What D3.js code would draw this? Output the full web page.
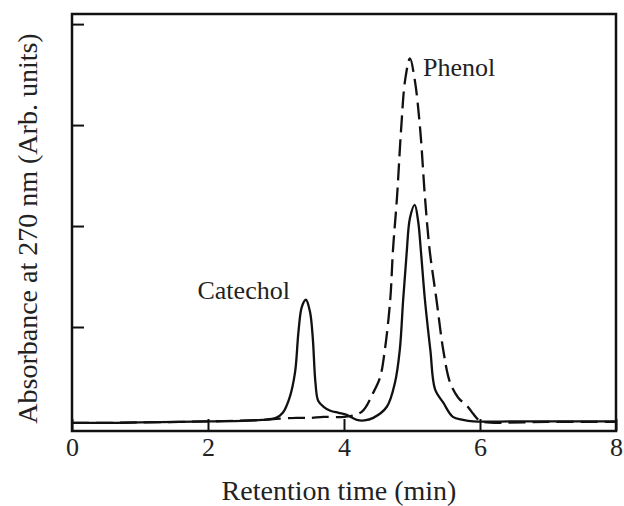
<!DOCTYPE html>
<html>
<head>
<meta charset="utf-8">
<script src="https://cdn.jsdelivr.net/npm/d3@7"></script>
<style>
  body { margin: 0; background: #fff; }
  svg { display: block; font-family: "Liberation Serif", "Times New Roman", serif; }
</style>
</head>
<body>
<svg width="624" height="506"></svg>
<script>
// retention time (min) / absorbance (arb. units)
const solidTime = [0, 0.5, 1.0, 2.0, 2.8, 3.0, 3.1, 3.2, 3.28, 3.33, 3.38, 3.44, 3.5, 3.54, 3.58, 3.62, 3.7, 3.8, 3.92, 4.04, 4.19, 4.3, 4.43, 4.63, 4.75, 4.82, 4.87, 4.92, 4.97, 5.04, 5.09, 5.13, 5.19, 5.27, 5.34, 5.46, 5.6, 5.75, 5.9, 6.5, 7.0, 8.0];
const solidAbs  = [0.05, 0.05, 0.055, 0.065, 0.08, 0.1, 0.15, 0.3, 0.55, 0.95, 1.2, 1.27, 1.15, 0.9, 0.45, 0.27, 0.21, 0.17, 0.15, 0.13, 0.08, 0.075, 0.1, 0.21, 0.45, 0.77, 1.27, 1.72, 2.08, 2.21, 2.05, 1.76, 1.27, 0.77, 0.38, 0.25, 0.11, 0.08, 0.065, 0.065, 0.065, 0.065];

const dashTime = [0, 0.5, 1.0, 2.0, 2.8, 3.0, 3.3, 3.5, 3.7, 4.0, 4.26, 4.43, 4.53, 4.6, 4.68, 4.72, 4.78, 4.84, 4.9, 4.97, 5.04, 5.12, 5.19, 5.26, 5.36, 5.46, 5.56, 5.68, 5.82, 5.9, 5.98, 6.05, 7.0, 8.0];
const dashAbs  = [0.05, 0.05, 0.055, 0.065, 0.08, 0.09, 0.1, 0.1, 0.11, 0.11, 0.16, 0.35, 0.5, 0.77, 1.27, 1.76, 2.29, 2.96, 3.45, 3.66, 3.45, 2.96, 2.29, 1.76, 1.27, 0.77, 0.45, 0.3, 0.21, 0.14, 0.08, 0.06, 0.06, 0.06];

const xTicks = [0, 2, 4, 6, 8];
const yTicks = [1, 2, 3, 4];

const peakLabels = ["Catechol", "Phenol"];
const peakTime = [3.44, 4.97];
const peakAbs = [1.27, 3.66];

const svg = d3.select("svg");
const margin = {top: 14, right: 8, bottom: 75, left: 72};
const width = 624 - margin.left - margin.right;
const height = 506 - margin.top - margin.bottom;

const x = d3.scaleLinear().domain([0, 8]).range([margin.left, margin.left + width]);
const y = d3.scaleLinear().domain([-0.03, 4.1]).range([margin.top + height, margin.top]);

const line = d3.line()
    .x(d => x(d[0]))
    .y(d => y(d[1]))
    .curve(d3.curveCatmullRom.alpha(0.5));

svg.append("path")
    .datum(dashTime.map((t, i) => [t, dashAbs[i]]))
    .attr("d", line)
    .attr("fill", "none")
    .attr("stroke", "#111")
    .attr("stroke-width", 2.3)
    .attr("stroke-dasharray", "17,7");

svg.append("path")
    .datum(solidTime.map((t, i) => [t, solidAbs[i]]))
    .attr("d", line)
    .attr("fill", "none")
    .attr("stroke", "#111")
    .attr("stroke-width", 2.3);

// frame
svg.append("rect")
    .attr("x", x(0))
    .attr("y", y(4.1))
    .attr("width", x(8) - x(0))
    .attr("height", y(-0.03) - y(4.1))
    .attr("fill", "none")
    .attr("stroke", "#111")
    .attr("stroke-width", 2.5);

const xAxisGroup = svg.append("g")
    .attr("class", "xAxis")
    .attr("transform", `translate(0, ${y(-0.03)})`)
    .call(d3.axisBottom(x).tickValues(xTicks).tickSize(-12).tickPadding(7).tickFormat(d3.format("d")));

const yAxisGroup = svg.append("g")
    .attr("class", "yAxis")
    .attr("transform", `translate(${x(0)}, 0)`)
    .call(d3.axisLeft(y).tickValues(yTicks).tickSize(-12).tickFormat(""));

svg.selectAll(".domain").remove();
svg.selectAll(".tick line").attr("stroke", "#111").attr("stroke-width", 2);
xAxisGroup.selectAll("text")
    .attr("font-family", "Liberation Serif, serif")
    .attr("font-size", 26)
    .attr("fill", "#222");

svg.append("text")
    .attr("x", 339)
    .attr("y", 500)
    .attr("text-anchor", "middle")
    .attr("font-size", 28)
    .attr("fill", "#222")
    .text("Retention time (min)");

svg.append("text")
    .attr("transform", `translate(37, ${(y(-0.03) + y(4.1)) / 2 + 6}) rotate(-90)`)
    .attr("text-anchor", "middle")
    .attr("font-size", 28)
    .attr("fill", "#222")
    .text("Absorbance at 270 nm (Arb. units)");

svg.append("text")
    .attr("x", x(peakTime[0]) - 16)
    .attr("y", y(peakAbs[0]) - 1)
    .attr("text-anchor", "end")
    .attr("font-size", 26)
    .attr("fill", "#222")
    .text(peakLabels[0]);

svg.append("text")
    .attr("x", x(peakTime[1]) + 13)
    .attr("y", y(peakAbs[1]) + 18)
    .attr("font-size", 26)
    .attr("fill", "#222")
    .text(peakLabels[1]);
</script>
</body>
</html>
